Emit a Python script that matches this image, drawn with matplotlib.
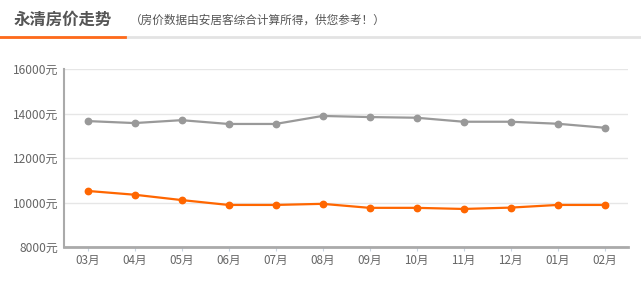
import matplotlib.pyplot as plt
from matplotlib.lines import Line2D

plt.rcParams['font.family'] = ['Noto Sans CJK SC', 'DejaVu Sans']

months = ['03月', '04月', '05月', '06月', '07月', '08月', '09月', '10月', '11月', '12月', '01月', '02月']
city_price = [13660, 13570, 13700, 13530, 13530, 13890, 13840, 13810, 13630, 13630, 13540, 13360]
local_price = [10520, 10350, 10110, 9890, 9890, 9940, 9760, 9760, 9710, 9770, 9890, 9890]
yticks = [8000, 10000, 12000, 14000, 16000]

fig = plt.figure(figsize=(6.41, 2.82), dpi=100)

# header
fig.text(14 / 641, 1 - 20 / 282, '永清房价走势', fontsize=11.8, fontweight='bold',
         color='#555555', va='center', ha='left')
fig.text(130 / 641, 1 - 20 / 282, '（房价数据由安居客综合计算所得，供您参考！）', fontsize=8.4,
         color='#555555', va='center', ha='left')
fig.add_artist(Line2D([0, 1], [1 - 37 / 282] * 2, color='#e3e3e3', lw=2))
fig.add_artist(Line2D([0, 125 / 641], [1 - 37 / 282] * 2, color='#ff6a1a', lw=2))

ax = fig.add_axes([64 / 641, 35 / 282, 564 / 641, 178 / 282])
x = range(len(months))
ax.plot(x, city_price, color='#999999', lw=1.6, marker='o', ms=4.6, zorder=3)
ax.plot(x, local_price, color='#ff6600', lw=1.6, marker='o', ms=4.6, zorder=3)

ax.set_xlim(-0.5, len(months) - 0.5)
ax.set_ylim(8000, 16000)
ax.set_yticks(yticks)
ax.set_yticklabels([f'{v}元' for v in yticks])
ax.set_xticks(list(x))
ax.set_xticklabels(months)
ax.grid(axis='y', color='#e6e6e6', lw=1)
ax.set_axisbelow(True)

for s in ['top', 'right']:
    ax.spines[s].set_visible(False)
ax.spines['left'].set_color('#aaaaaa')
ax.spines['left'].set_linewidth(1.5)
ax.spines['bottom'].set_color('#aaaaaa')
ax.spines['bottom'].set_linewidth(2)
ax.tick_params(axis='y', length=0, labelsize=8.6, labelcolor='#666666', pad=4)
ax.tick_params(axis='x', length=3, color='#c8d4e0', labelsize=8.4, labelcolor='#666666', pad=2)

fig.savefig('out.png', dpi=100)
